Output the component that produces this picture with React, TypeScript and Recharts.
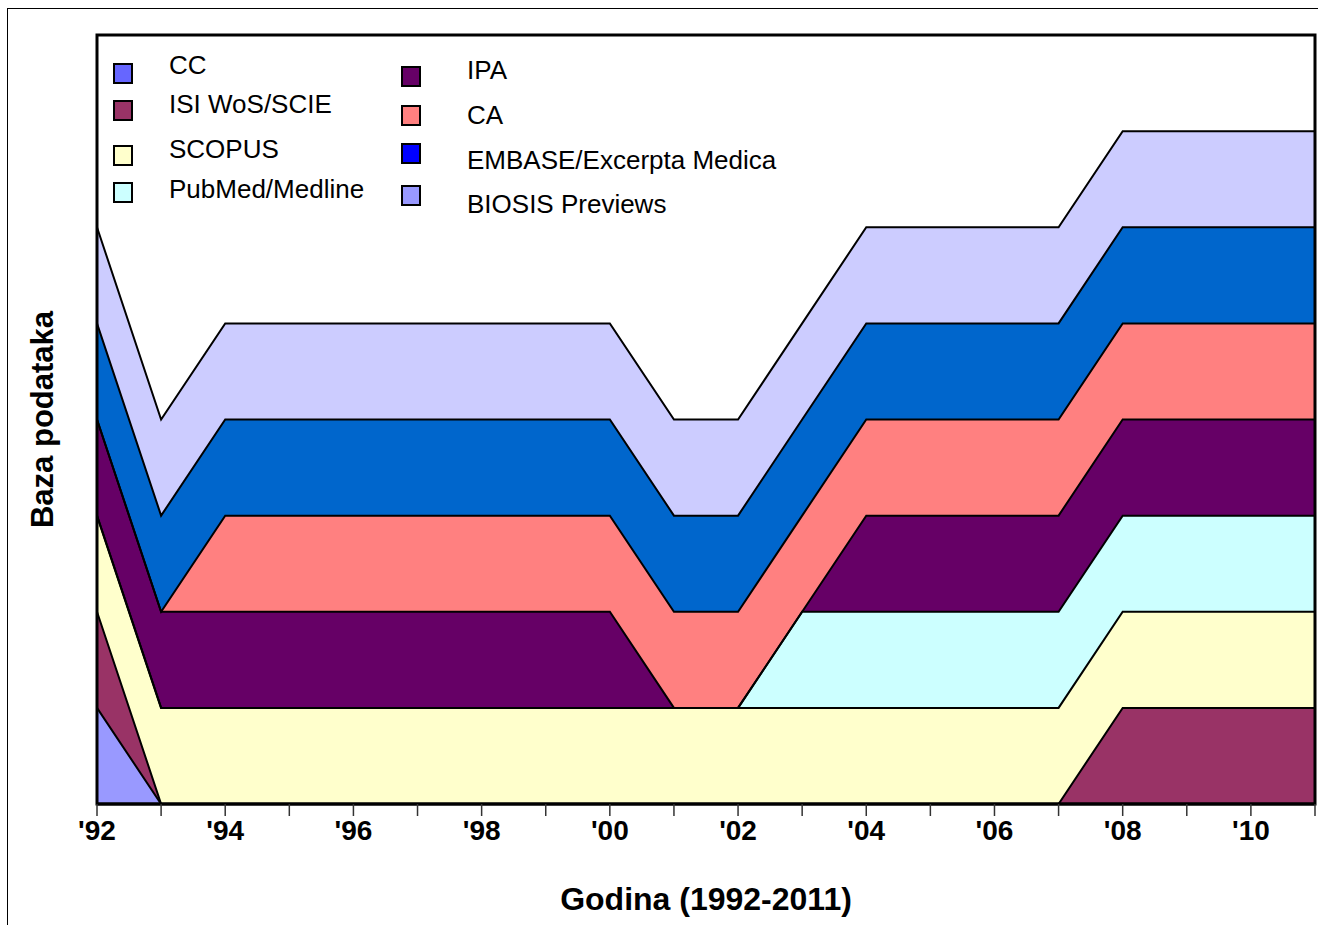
import { AreaChart, Area, XAxis, YAxis, ReferenceArea } from "recharts";

// years 1992..2011 (1 = database present that year)
const years = [1992, 1993, 1994, 1995, 1996, 1997, 1998, 1999, 2000, 2001, 2002, 2003, 2004, 2005, 2006, 2007, 2008, 2009, 2010, 2011];
const tickLabels = ["'92", "", "'94", "", "'96", "", "'98", "", "'00", "", "'02", "", "'04", "", "'06", "", "'08", "", "'10", ""];

const cc = [1, 0, 0, 0, 0, 0, 0, 0, 0, 0, 0, 0, 0, 0, 0, 0, 0, 0, 0, 0];
const isi = [1, 0, 0, 0, 0, 0, 0, 0, 0, 0, 0, 0, 0, 0, 0, 0, 1, 1, 1, 1];
const scopus = [1, 1, 1, 1, 1, 1, 1, 1, 1, 1, 1, 1, 1, 1, 1, 1, 1, 1, 1, 1];
const pubmed = [0, 0, 0, 0, 0, 0, 0, 0, 0, 0, 0, 1, 1, 1, 1, 1, 1, 1, 1, 1];
const ipa = [1, 1, 1, 1, 1, 1, 1, 1, 1, 0, 0, 0, 1, 1, 1, 1, 1, 1, 1, 1];
const ca = [0, 0, 1, 1, 1, 1, 1, 1, 1, 1, 1, 1, 1, 1, 1, 1, 1, 1, 1, 1];
const embase = [1, 1, 1, 1, 1, 1, 1, 1, 1, 1, 1, 1, 1, 1, 1, 1, 1, 1, 1, 1];
const biosis = [1, 1, 1, 1, 1, 1, 1, 1, 1, 1, 1, 1, 1, 1, 1, 1, 1, 1, 1, 1];

const seriesKeys = ["cc", "isi", "scopus", "pubmed", "ipa", "ca", "embase", "biosis"];
const seriesNames = ["CC", "ISI WoS/SCIE", "SCOPUS", "PubMed/Medline", "IPA", "CA", "EMBASE/Excerpta Medica", "BIOSIS Previews"];
const areaColors = ["#9999FF", "#993366", "#FFFFCC", "#CCFFFF", "#660066", "#FF8080", "#0066CC", "#CCCCFF"];
const legendColors = ["#6666FF", "#993366", "#FFFFCC", "#CCFFFF", "#660066", "#FF8080", "#0000FF", "#9999FF"];

const data = years.map((year, i) => ({
  year,
  cc: cc[i],
  isi: isi[i],
  scopus: scopus[i],
  pubmed: pubmed[i],
  ipa: ipa[i],
  ca: ca[i],
  embase: embase[i],
  biosis: biosis[i],
}));

const FONT = "'Liberation Sans', Arial, sans-serif";

// legend placement (two columns inside the plot)
const legendMarkerTop = [63, 100, 145, 182, 66, 105, 143, 185];
const legendTextMid = [65, 104, 149, 189, 70, 115, 160, 204];

function LegendBox() {
  return (
    <>
      {seriesNames.map((name, i) => {
        const col2 = i >= 4;
        return (
          <div key={name}>
            <div
              style={{
                position: "absolute",
                left: col2 ? 401 : 113,
                top: legendMarkerTop[i],
                width: 20,
                height: 21,
                boxSizing: "border-box",
                border: "2px solid #000",
                background: legendColors[i],
              }}
            />
            <div
              style={{
                position: "absolute",
                left: col2 ? 467 : 169,
                top: legendTextMid[i] - 13,
                fontFamily: FONT,
                fontSize: 26,
                lineHeight: "26px",
                color: "#000",
                whiteSpace: "nowrap",
              }}
            >
              {name}
            </div>
          </div>
        );
      })}
    </>
  );
}

export default function App() {
  return (
    <div style={{ position: "absolute", left: 0, top: 0, width: 1322, height: 925, background: "#fff" }}>
      <div
        style={{
          position: "absolute",
          left: 7,
          top: 8,
          width: 1311,
          height: 917,
          boxSizing: "border-box",
          borderTop: "1px solid #000",
          borderLeft: "1px solid #000",
        }}
      />
      <div style={{ position: "absolute", left: 0, top: 0 }}>
        <AreaChart width={1322} height={925} data={data} margin={{ top: 35, right: 7, left: 0, bottom: 0 }}>
          <XAxis
            dataKey="year"
            type="number"
            domain={[1992, 2011]}
            ticks={years}
            interval={0}
            tickFormatter={(v: number) => tickLabels[years.indexOf(v)]}
            height={121}
            tickSize={12}
            tickMargin={4}
            axisLine={{ stroke: "#000", strokeWidth: 3 }}
            tickLine={{ stroke: "#333", strokeWidth: 1.5 }}
            tick={{ fill: "#000", fontSize: 28, fontWeight: "bold", fontFamily: FONT }}
            label={{
              value: "Godina (1992-2011)",
              position: "insideBottom",
              offset: 15,
              fill: "#000",
              fontSize: 32,
              fontWeight: "bold",
              fontFamily: FONT,
            }}
          />
          <YAxis
            width={97}
            domain={[0, 8]}
            ticks={[0, 8]}
            tick={false}
            tickLine={false}
            axisLine={false}
            label={{
              content: (props: any) => {
                const vb = props.viewBox || { y: 35, height: 769 };
                const cy = vb.y + vb.height / 2;
                return (
                  <text
                    x={53}
                    y={cy}
                    transform={`rotate(-90 53 ${cy})`}
                    textAnchor="middle"
                    fill="#000"
                    fontSize={31}
                    fontWeight="bold"
                    fontFamily={FONT}
                  >
                    Baza podataka
                  </text>
                );
              },
            }}
          />
          {/* fills */}
          {seriesKeys.map((key, i) => (
            <Area
              key={key}
              type="linear"
              dataKey={key}
              name={seriesNames[i]}
              stackId="fill"
              stroke="none"
              fill={areaColors[i]}
              fillOpacity={1}
              dot={false}
              activeDot={false}
              isAnimationActive={false}
            />
          ))}
          {/* black outlines drawn on top of all fills */}
          {seriesKeys.map((key) => (
            <Area
              key={key + "-line"}
              type="linear"
              dataKey={key}
              stackId="line"
              stroke="#000"
              strokeWidth={2}
              fill="none"
              dot={false}
              activeDot={false}
              legendType="none"
              isAnimationActive={false}
            />
          ))}
          <ReferenceArea
            x1={1992}
            x2={2011}
            y1={0}
            y2={8}
            fill="none"
            stroke="#000"
            strokeWidth={3}
            ifOverflow="visible"
          />
        </AreaChart>
      </div>
      <LegendBox />
    </div>
  );
}
